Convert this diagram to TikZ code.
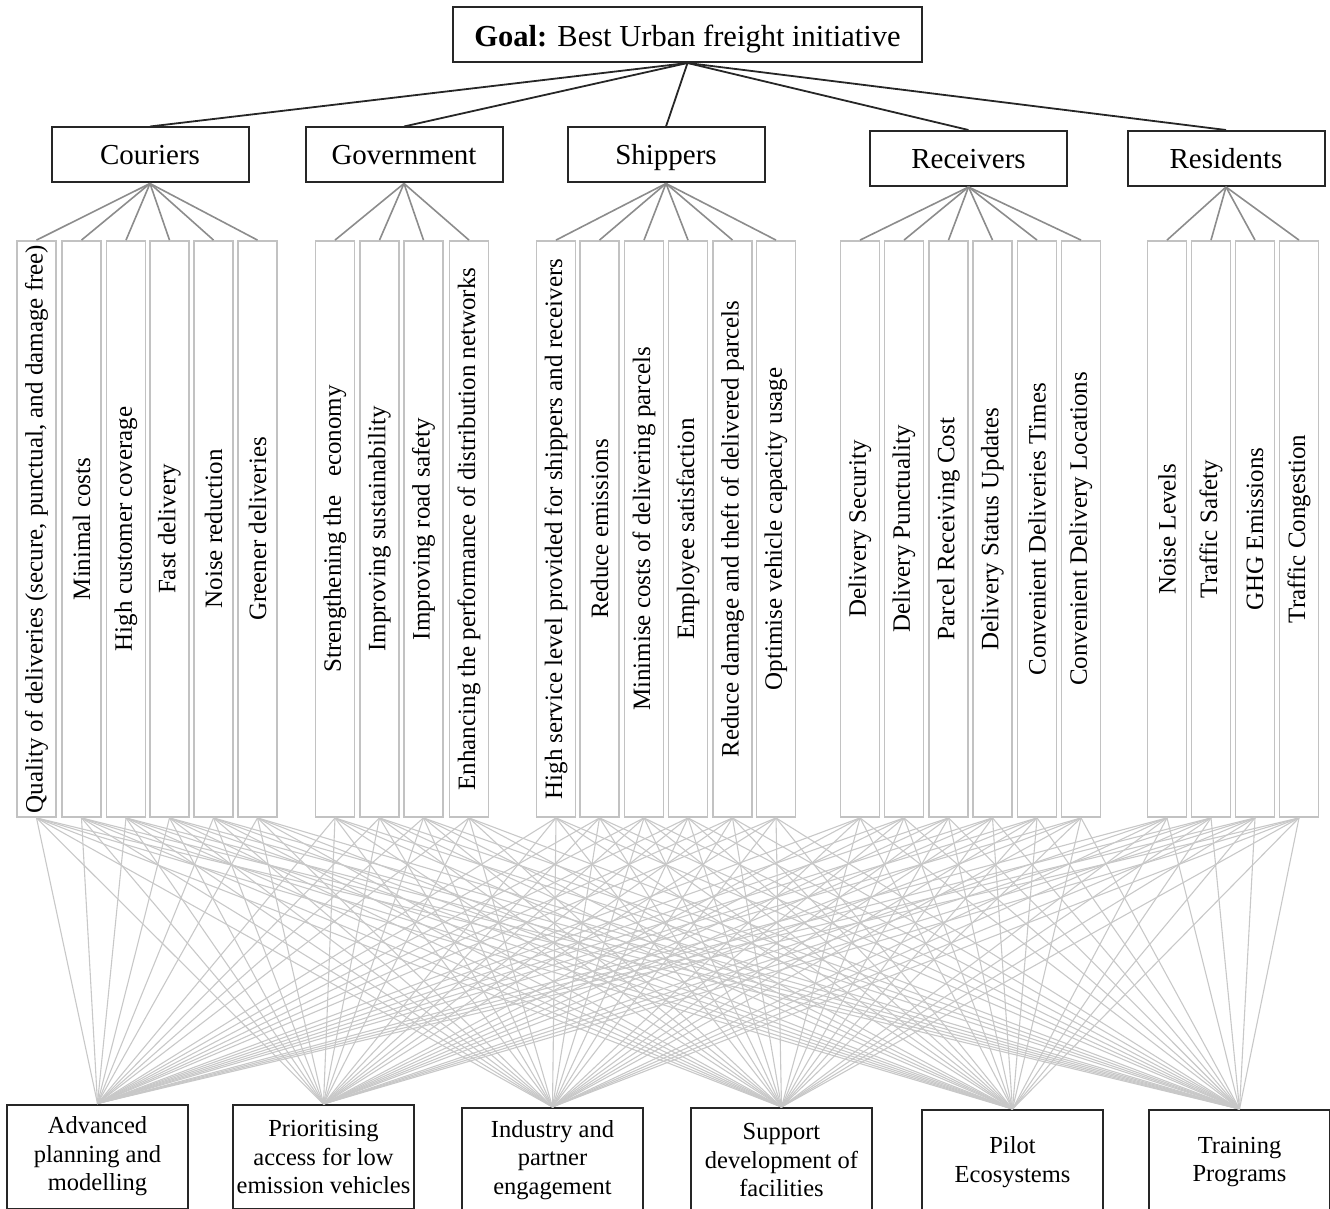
\documentclass[tikz,border=0pt]{standalone}
\usepackage{fontspec}
\setmainfont{Liberation Serif}
\usepackage{graphicx}

\definecolor{critgray}{HTML}{C2C2C2}
\definecolor{subgray}{HTML}{8C8C8C}
\definecolor{altgray}{HTML}{C8C8C8}

\begin{document}
\begin{tikzpicture}[x=1pt,y=-1pt,
    goalbox/.style={draw=black!85, line width=2pt, minimum width=469pt, minimum height=55pt,
        inner sep=0pt, text height=24pt, text depth=0pt, font=\fontsize{30.5}{35}\selectfont},
    stakebox/.style={draw=black!85, line width=2pt, minimum width=197pt, minimum height=55pt,
        inner sep=0pt, text height=22pt, text depth=2pt, font=\fontsize{29}{34}\selectfont},
    critbox/.style={draw=critgray, line width=1.8pt, minimum width=39pt, minimum height=576pt,
        inner sep=0pt, font=\fontsize{25}{30}\selectfont},
    altbox/.style={draw=black!85, line width=2pt, minimum width=181pt, minimum height=104pt,
        inner sep=0pt, anchor=north, align=center, font=\fontsize{24.5}{28.5}\selectfont},
    toplink/.style={draw=black!85, line width=1.8pt},
    sublink/.style={draw=subgray, line width=1.6pt},
    altlink/.style={draw=altgray, line width=1.1pt}]
    \useasboundingbox (0,0) rectangle (1330,1209);

    \node[goalbox] (goal) at (687.5,34.5) {\textbf{Goal:} Best Urban freight initiative};

    \node[stakebox] (couriers) at (150,155) {Couriers};
    \node[stakebox] (government) at (404,155) {Government};
    \node[stakebox] (shippers) at (666,155) {Shippers};
    \node[stakebox] (receivers) at (968.5,158.5) {Receivers};
    \node[stakebox] (residents) at (1226,158.5) {Residents};

    \foreach \s in {couriers,government,shippers,receivers,residents}
        \draw[toplink] (goal.south) -- (\s.north);

    \foreach \x/\txt [count=\i] in {
        36.5/{Quality of deliveries (secure, punctual, and damage free)},
        81.5/{Minimal costs},
        126/{High customer coverage},
        169.5/{Fast delivery},
        213.5/{Noise reduction},
        257.5/{Greener deliveries},
        335/{Strengthening the~~~economy},
        379.5/{Improving sustainability},
        423.5/{Improving road safety},
        469/{Enhancing the performance of distribution networks},
        556/{High service level provided for shippers and receivers},
        599.5/{Reduce emissions},
        644/{Minimise costs of delivering parcels},
        688/{Employee satisfaction},
        732.5/{Reduce damage and theft of delivered parcels},
        776/{Optimise vehicle capacity usage},
        860/{Delivery Security},
        904/{Delivery Punctuality},
        948.5/{Parcel Receiving Cost},
        992.5/{Delivery Status Updates},
        1037/{Convenient Deliveries Times},
        1081/{Convenient Delivery Locations},
        1167/{Noise Levels},
        1211/{Traffic Safety},
        1255/{GHG Emissions},
        1299/{Traffic Congestion}}
        \node[critbox] (c\i) at (\x,529) {\rotatebox{90}{\txt}};

    \foreach \s/\first/\last in {couriers/1/6, government/7/10, shippers/11/16,
        receivers/17/22, residents/23/26}
        \foreach \c in {\first,...,\last}
            \draw[sublink] (\s.south) -- (c\c.north);

    \node[altbox] (a1) at (97.5,1103.5) {Advanced\\planning and\\modelling};
    \node[altbox] (a2) at (323.5,1104) {Prioritising\\access for low\\emission vehicles};
    \node[altbox] (a3) at (552.5,1107) {Industry and\\partner\\engagement};
    \node[altbox] (a4) at (781.5,1107) {Support\\development of\\facilities};
    \node[altbox] (a5) at (1012.5,1109) {Pilot\\Ecosystems};
    \node[altbox] (a6) at (1239.5,1109) {Training\\Programs};

    \foreach \c in {1,...,26}
        \foreach \a in {1,...,6}
            \draw[altlink] (c\c.south) -- (a\a.north);
\end{tikzpicture}
\end{document}
